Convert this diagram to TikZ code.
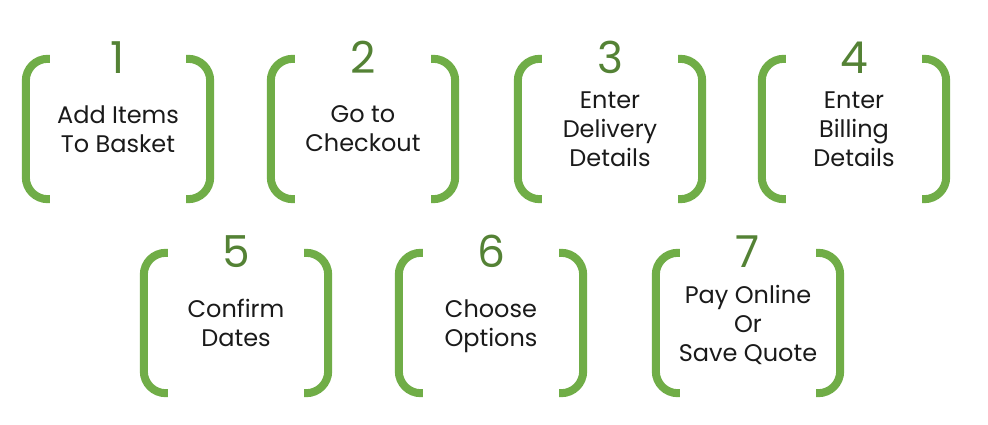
\documentclass[tikz,border=0pt]{standalone}
\usepackage{fontspec}
\setmainfont{Poppins}
\definecolor{bracketgreen}{HTML}{70AD47}
\definecolor{numbergreen}{HTML}{548235}
\definecolor{labeltext}{HTML}{1A1A1A}
\newcommand{\stepbrackets}[1]{%
  \draw[bracket] ([xshift=24pt]#1.north west) -| (#1.south west) -- ([xshift=24pt]#1.south west);
  \draw[bracket] ([xshift=-24pt]#1.north east) -| (#1.south east) -- ([xshift=-24pt]#1.south east);
}
\tikzset{
  stepbox/.style={minimum width=184pt, minimum height=140pt, inner sep=0pt, align=center,
    text depth=0pt, text=labeltext, font=\fontsize{24}{29}\selectfont},
  stepnum/.style={text=numbergreen, inner sep=0pt, font=\fontsize{44}{44}\selectfont},
  bracket/.style={draw=bracketgreen, line width=8pt, rounded corners=22pt},
}

\begin{document}
\begin{tikzpicture}[x=1pt, y=-1pt]
  \useasboundingbox (0,0) rectangle (988,425);
  % top row
  \node[stepbox] (s1) at (118,129) {Add Items\\To Basket};
  \node[stepbox] (s2) at (363,129) {Go to\\Checkout};
  \node[stepbox] (s3) at (610,129) {Enter\\Delivery\\Details};
  \node[stepbox] (s4) at (854,129) {Enter\\Billing\\Details};
  % bottom row
  \node[stepbox] (s5) at (236,323) {Confirm\\Dates};
  \node[stepbox] (s6) at (491,323) {Choose\\Options};
  \node[stepbox] (s7) at (748,323) {Pay Online\\Or\\Save Quote};
  \foreach \s in {1,...,7} {
    \stepbrackets{s\s}
    \node[stepnum] (n\s) at ([yshift=1pt]s\s.north) {\s};
  }
\end{tikzpicture}
\end{document}
